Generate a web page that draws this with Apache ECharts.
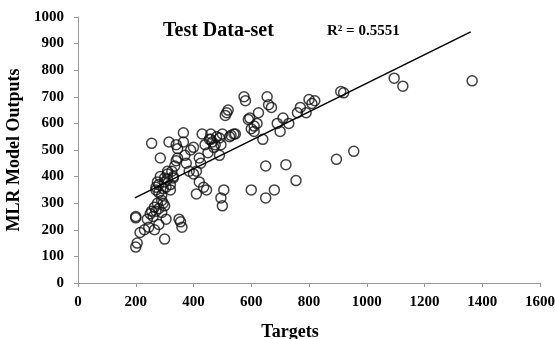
<!DOCTYPE html>
<html>
<head>
<meta charset="utf-8">
<script src="https://cdn.jsdelivr.net/npm/echarts@6/dist/echarts.min.js"></script>
<style>
  html, body { margin: 0; padding: 0; background: #fff; }
  #chart { width: 555px; height: 339px; }
</style>
</head>
<body>
<div id="chart"></div>
<script>
// targets vs model outputs
const targets = [
  200, 205, 200, 200, 215, 230, 240, 245, 250, 255, 260, 265, 270, 275, 280, 265, 280, 290, 300, 305,
  255, 270, 270, 275, 280, 285, 285, 290, 290, 295, 300, 300, 305, 310, 310, 315, 320, 325, 330, 335,
  340, 345, 345, 340, 350, 355, 360, 365, 365, 370, 375, 385, 390, 400, 400, 410, 410, 420, 425, 420,
  435, 430, 440, 450, 445, 455, 460, 465, 470, 480, 490, 495, 500, 490, 495, 500, 505, 510, 515, 520,
  525, 530, 540, 545, 575, 580, 590, 595, 600, 600, 610, 610, 620, 625, 640, 650, 650, 655, 660, 670,
  680, 690, 700, 710, 720, 730, 755, 760, 770, 790, 800, 810, 820, 895, 910, 920, 955, 1095, 1125, 1365,
  280, 295, 310, 320, 330, 460, 475, 300
]
const outputs = [
  135, 150, 245, 250, 190, 200, 240, 210, 260, 270, 250, 285, 270, 300, 280, 200, 220, 265, 165, 240,
  525, 360, 350, 380, 370, 470, 400, 330, 310, 355, 380, 395, 360, 410, 420, 530, 350, 420, 395, 440,
  460, 470, 505, 520, 240, 230, 210, 530, 565, 480, 450, 420, 500, 510, 410, 335, 420, 470, 450, 380,
  360, 560, 520, 490, 350, 540, 560, 530, 510, 550, 545, 520, 560, 480, 320, 290, 350, 630, 640, 650,
  550, 555, 560, 560, 700, 685, 615, 620, 580, 350, 590, 570, 600, 640, 540, 440, 320, 700, 670, 660,
  350, 600, 570, 620, 445, 600, 385, 640, 660, 640, 690, 675, 685, 465, 720, 715, 495, 770, 740, 760,
  340, 300, 390, 370, 400, 540, 520, 290
]
// fitted trend line end points
const trendX = [197, 1360]
const trendY = [320, 944]

const xTicks = [0, 1600, 200]
const yTicks = [0, 1000, 100]

const font = 'Liberation Serif, Times New Roman, serif'
const chart = echarts.init(document.getElementById('chart'))

const scatterData = targets.map((x, i) => [x, outputs[i]])
const trendData = trendX.map((x, i) => [x, trendY[i]])

const labelStyle = (margin) => ({
  fontFamily: font, fontWeight: 'bold', fontSize: 15, color: '#000', margin: margin,
  formatter: (v) => String(v)
})

chart.setOption({
  animation: false,
  grid: { left: 78, right: 15, top: 17, bottom: 56, outerBoundsMode: 'none' },
  graphic: [
    {
      type: 'text', left: 163, top: 21,
      style: { text: 'Test Data-set', font: 'bold 20px ' + font, fill: '#000' }
    },
    {
      type: 'text', left: 327, top: 24,
      style: { text: 'R² = 0.5551', font: 'bold 15px ' + font, fill: '#000' }
    }
  ],
  xAxis: {
    type: 'value',
    min: xTicks[0], max: xTicks[1], interval: xTicks[2],
    name: 'Targets', nameLocation: 'middle', nameGap: 40,
    nameTextStyle: {
      fontFamily: font, fontWeight: 'bold', fontSize: 18, color: '#000',
      padding: [0, 38, 0, 0]
    },
    axisLine: { lineStyle: { color: '#999' } },
    axisTick: { show: true, length: 4, lineStyle: { color: '#999' } },
    axisLabel: labelStyle(12),
    splitLine: { show: false }
  },
  yAxis: {
    type: 'value',
    min: yTicks[0], max: yTicks[1], interval: yTicks[2],
    name: 'MLR Model Outputs', nameLocation: 'middle', nameGap: 39,
    nameTextStyle: { fontFamily: font, fontWeight: 'bold', fontSize: 18, color: '#000' },
    axisLine: { show: true, lineStyle: { color: '#999' } },
    axisTick: { show: true, length: 4, lineStyle: { color: '#999' } },
    axisLabel: labelStyle(14),
    splitLine: { show: false }
  },
  series: [
    {
      type: 'scatter',
      data: scatterData,
      symbol: 'circle',
      symbolSize: 10,
      itemStyle: { color: 'rgba(0,0,0,0)', borderColor: '#111', borderWidth: 1.5 }
    },
    {
      type: 'line',
      data: trendData,
      symbol: 'none',
      lineStyle: { color: '#000', width: 1.6 },
      z: 3
    }
  ]
})
</script>
</body>
</html>
